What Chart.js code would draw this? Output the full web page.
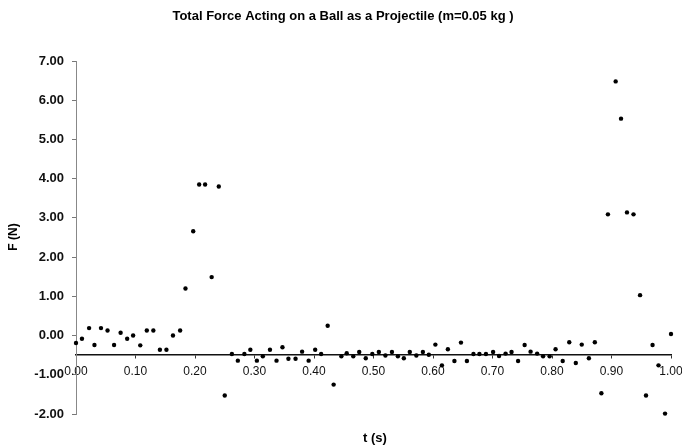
<!DOCTYPE html>
<html>
<head>
<meta charset="utf-8">
<script src="https://cdn.jsdelivr.net/npm/chart.js@4/dist/chart.umd.min.js"></script>
<style>
  body { margin: 0; background: #fff; }
  canvas { display: block; }
</style>
</head>
<body>
<canvas id="forceChart" width="682" height="446"></canvas>
<script>
// time (s) and total force (N)
const times = [
  0, 0.010, 0.022, 0.031, 0.042, 0.053, 0.064, 0.075, 0.086, 0.096,
  0.108, 0.119, 0.130, 0.141, 0.152, 0.163, 0.175, 0.184, 0.197, 0.207,
  0.217, 0.228, 0.240, 0.250, 0.262, 0.272, 0.283, 0.293, 0.304, 0.314,
  0.326, 0.337, 0.347, 0.357, 0.369, 0.380, 0.391, 0.402, 0.412, 0.423,
  0.433, 0.446, 0.455, 0.466, 0.476, 0.487, 0.498, 0.509, 0.520, 0.531,
  0.541, 0.551, 0.561, 0.572, 0.583, 0.593, 0.604, 0.615, 0.625, 0.636,
  0.647, 0.657, 0.668, 0.678, 0.689, 0.701, 0.711, 0.722, 0.732, 0.743,
  0.754, 0.764, 0.775, 0.785, 0.796, 0.806, 0.818, 0.829, 0.840, 0.850,
  0.862, 0.872, 0.883, 0.894, 0.907, 0.916, 0.926, 0.937, 0.948, 0.958,
  0.969, 0.979, 0.990, 1.000
];
const forces = [
  -0.19, -0.08, 0.19, -0.24, 0.19, 0.13, -0.24, 0.07, -0.08, 0.00,
  -0.25, 0.13, 0.13, -0.36, -0.36, 0.00, 0.13, 1.20, 2.66, 3.85,
  3.85, 1.49, 3.80, -1.53, -0.47, -0.64, -0.47, -0.36, -0.64, -0.53,
  -0.36, -0.64, -0.30, -0.59, -0.59, -0.41, -0.64, -0.36, -0.47, 0.25,
  -1.25, -0.53, -0.45, -0.53, -0.42, -0.58, -0.47, -0.42, -0.51, -0.42,
  -0.53, -0.58, -0.42, -0.51, -0.42, -0.49, -0.23, -0.76, -0.35, -0.65,
  -0.18, -0.65, -0.47, -0.47, -0.47, -0.42, -0.52, -0.46, -0.42, -0.65,
  -0.24, -0.41, -0.46, -0.53, -0.53, -0.35, -0.65, -0.17, -0.70, -0.23,
  -0.58, -0.17, -1.47, 3.09, 6.48, 5.53, 3.14, 3.09, 1.03, -1.53,
  -0.24, -0.76, -1.99, 0.04
];

const titleText = 'Total Force Acting on a Ball as a Projectile (m=0.05 kg )';
const xTitle = 't (s)';
const yTitle = 'F (N)';
const xCross = -0.5; // horizontal axis crosses here

const FONT = '"Liberation Sans", Arial, sans-serif';

// titles drawn by hand so the plot area stays where it is in the original
const textPlugin = {
  id: 'texts',
  afterDraw(chart) {
    const ctx = chart.ctx;
    ctx.save();
    ctx.fillStyle = '#000';
    ctx.textAlign = 'center';
    ctx.textBaseline = 'middle';
    ctx.font = 'bold 13px ' + FONT;
    ctx.fillText(titleText, 343, 16);
    ctx.fillText(xTitle, 375, 438);
    ctx.translate(14, 237);
    ctx.rotate(-Math.PI / 2);
    ctx.font = 'bold 12px ' + FONT;
    ctx.fillText(yTitle, 0, 0);
    ctx.restore();
  }
};

new Chart(document.getElementById('forceChart'), {
  type: 'scatter',
  data: {
    datasets: [{
      data: times.map((t, i) => ({ x: t, y: forces[i] })),
      pointRadius: 2.2,
      pointBackgroundColor: '#000',
      pointBorderWidth: 0,
      showLine: false,
      clip: false
    }]
  },
  options: {
    responsive: false,
    animation: false,
    layout: { padding: { top: 61, right: 11, bottom: 32, left: 0 } },
    plugins: { legend: { display: false }, tooltip: { enabled: false } },
    scales: {
      x: {
        type: 'linear',
        position: { y: xCross },
        min: 0,
        max: 1,
        afterFit: s => { s.paddingLeft = 0; s.paddingRight = 0; },
        ticks: {
          stepSize: 0.1,
          padding: 6,
          color: '#111',
          font: { family: FONT, size: 12 },
          callback: v => v.toFixed(2)
        },
        grid: { drawOnChartArea: false, tickLength: 3, color: '#333' },
        border: { color: '#111', width: 1.5 }
      },
      y: {
        min: -2,
        max: 7,
        afterFit: s => { s.width = 76; s.paddingTop = 0; s.paddingBottom = 0; },
        ticks: {
          stepSize: 1,
          padding: 8,
          color: '#111',
          font: { family: FONT, size: 13, weight: 'bold' },
          callback: v => v.toFixed(2)
        },
        grid: { drawOnChartArea: false, tickLength: 4, color: '#777' },
        border: { color: '#888', width: 1, dash: [2, 2] }
      }
    }
  },
  plugins: [textPlugin]
});
</script>
</body>
</html>
